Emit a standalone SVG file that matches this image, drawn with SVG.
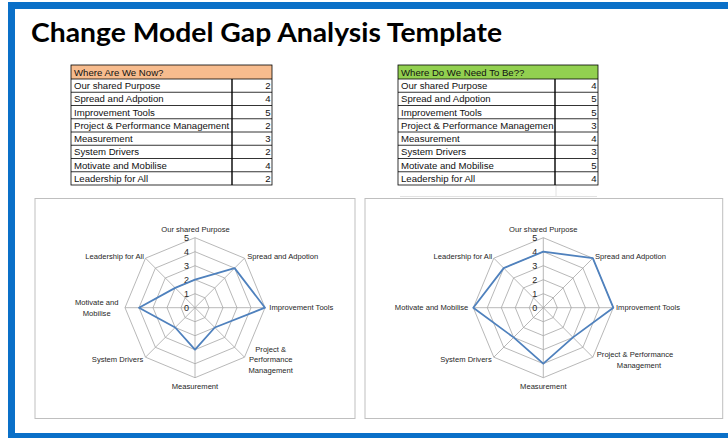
<svg xmlns="http://www.w3.org/2000/svg" width="728" height="438" viewBox="0 0 728 438">
<style>
.frame{fill:#0A70C8}
.title{font-family:Lato,"Open Sans",sans-serif;font-weight:700;font-size:27px;fill:#000}
.tt{font-family:"Liberation Sans",Arial,sans-serif;font-size:9.6px;fill:#111}
.num{text-anchor:end}
.grid{fill:none;stroke:#a6a6a6;stroke-width:0.8}
.data{fill:none;stroke:#4F81BD;stroke-width:1.8;stroke-linejoin:round}
.lbl{font-family:"Liberation Sans",Arial,sans-serif;font-size:7.6px;fill:#262626}
.ax{font-family:"Liberation Sans",Arial,sans-serif;font-size:9px;fill:#262626;text-anchor:end}
.box{fill:#fff;stroke:#bfbfbf;stroke-width:1}
.cell{fill:none;stroke:#000;stroke-width:0.8}
.mid{text-anchor:middle}
.end{text-anchor:end}
</style>
<defs>
<g id="web">
<polygon class="grid" points="0,-14 9.9,-9.9 14,0 9.9,9.9 0,14 -9.9,9.9 -14,0 -9.9,-9.9"/>
<polygon class="grid" points="0,-28 19.8,-19.8 28,0 19.8,19.8 0,28 -19.8,19.8 -28,0 -19.8,-19.8"/>
<polygon class="grid" points="0,-42 29.7,-29.7 42,0 29.7,29.7 0,42 -29.7,29.7 -42,0 -29.7,-29.7"/>
<polygon class="grid" points="0,-56 39.6,-39.6 56,0 39.6,39.6 0,56 -39.6,39.6 -56,0 -39.6,-39.6"/>
<polygon class="grid" points="0,-70 49.5,-49.5 70,0 49.5,49.5 0,70 -49.5,49.5 -70,0 -49.5,-49.5"/>
<path class="grid" d="M0,0V-70M0,0L49.5,-49.5M0,0H70M0,0L49.5,49.5M0,0V70M0,0L-49.5,49.5M0,0H-70M0,0L-49.5,-49.5"/>
<text class="ax" x="-6" y="3">0</text>
<text class="ax" x="-6" y="-11">1</text>
<text class="ax" x="-6" y="-25">2</text>
<text class="ax" x="-6" y="-39">3</text>
<text class="ax" x="-6" y="-53">4</text>
<text class="ax" x="-6" y="-67">5</text>
</g>
</defs>
<rect width="728" height="438" fill="#fff"/>
<g id="frame">
<rect class="frame" x="8" y="2" width="720" height="7"/>
<rect class="frame" x="8" y="2" width="7" height="436"/>
<rect class="frame" x="8" y="433" width="720" height="5"/>
</g>
<text id="title" class="title" x="31" y="42" textLength="471" lengthAdjust="spacingAndGlyphs">Change Model Gap Analysis Template</text>

<g id="table-now">
<rect x="71" y="65" width="201" height="14" fill="#F7BC8E"/>
<rect class="cell" x="71" y="65" width="201" height="120"/>
<path class="cell" d="M71,79H272M71,92.25H272M71,105.5H272M71,118.75H272M71,132H272M71,145.25H272M71,158.5H272M71,171.75H272"/>
<path d="M232,79V185" stroke="#000" stroke-width="1.4"/>
<text class="tt" x="74" y="75.5">Where Are We Now?</text>
<text class="tt" x="74" y="89.2">Our shared Purpose</text>
<text class="tt" x="74" y="102.4">Spread and Adpotion</text>
<text class="tt" x="74" y="115.7">Improvement Tools</text>
<text class="tt" x="74" y="128.9">Project &amp; Performance Management</text>
<text class="tt" x="74" y="142.2">Measurement</text>
<text class="tt" x="74" y="155.4">System Drivers</text>
<text class="tt" x="74" y="168.7">Motivate and Mobilise</text>
<text class="tt" x="74" y="181.9">Leadership for All</text>
<g class="tt num">
<text x="270.5" y="89.2">2</text>
<text x="270.5" y="102.4">4</text>
<text x="270.5" y="115.7">5</text>
<text x="270.5" y="128.9">2</text>
<text x="270.5" y="142.2">3</text>
<text x="270.5" y="155.4">2</text>
<text x="270.5" y="168.7">4</text>
<text x="270.5" y="181.9">2</text>
</g>
</g>

<g id="table-need">
<path d="M400,196.5H597M556,185V196.5" stroke="#e2e2e2" stroke-width="1" fill="none"/>
<rect x="398" y="65" width="200" height="14" fill="#92D050"/>
<rect class="cell" x="398" y="65" width="200" height="120"/>
<path class="cell" d="M398,79H598M398,92.25H598M398,105.5H598M398,118.75H598M398,132H598M398,145.25H598M398,158.5H598M398,171.75H598"/>
<path d="M555,79V185" stroke="#000" stroke-width="1.4"/>
<text class="tt" x="401" y="75.5">Where Do We Need To Be??</text>
<text class="tt" x="401" y="89.2">Our shared Purpose</text>
<text class="tt" x="401" y="102.4">Spread and Adpotion</text>
<text class="tt" x="401" y="115.7">Improvement Tools</text>
<text class="tt" x="401" y="128.9">Project &amp; Performance Managemen</text>
<text class="tt" x="401" y="142.2">Measurement</text>
<text class="tt" x="401" y="155.4">System Drivers</text>
<text class="tt" x="401" y="168.7">Motivate and Mobilise</text>
<text class="tt" x="401" y="181.9">Leadership for All</text>
<g class="tt num">
<text x="596.5" y="89.2">4</text>
<text x="596.5" y="102.4">5</text>
<text x="596.5" y="115.7">5</text>
<text x="596.5" y="128.9">3</text>
<text x="596.5" y="142.2">4</text>
<text x="596.5" y="155.4">3</text>
<text x="596.5" y="168.7">5</text>
<text x="596.5" y="181.9">4</text>
</g>
</g>

<g id="chart-now">
<rect class="box" x="35" y="198.5" width="320" height="220"/>
<use href="#web" x="195" y="307.7"/>
<polygon class="data" transform="translate(195,307.7)" points="0,-28 39.6,-39.6 70,0 19.8,19.8 0,42 -19.8,19.8 -56,0 -19.8,-19.8"/>
<text class="lbl mid" x="195.5" y="232">Our shared Purpose</text>
<text class="lbl" x="247.3" y="258.7">Spread and Adpotion</text>
<text class="lbl" x="269.3" y="310.4">Improvement Tools</text>
<text class="lbl mid" x="270.7" y="352">Project &amp;</text>
<text class="lbl mid" x="270.7" y="362.4">Performance</text>
<text class="lbl mid" x="270.7" y="372.8">Management</text>
<text class="lbl mid" x="195" y="388.7">Measurement</text>
<text class="lbl end" x="143.3" y="362">System Drivers</text>
<text class="lbl mid" x="96.7" y="305.4">Motivate and</text>
<text class="lbl mid" x="96.7" y="316">Mobilise</text>
<text class="lbl end" x="144" y="258.7">Leadership for All</text>
</g>

<g id="chart-need">
<rect class="box" x="365" y="198.5" width="357.7" height="220"/>
<use href="#web" x="543.3" y="307.7"/>
<polygon class="data" transform="translate(543.3,307.7)" points="0,-56 49.5,-49.5 70,0 29.7,29.7 0,56 -29.7,29.7 -70,0 -39.6,-39.6"/>
<text class="lbl mid" x="543.3" y="232">Our shared Purpose</text>
<text class="lbl" x="595" y="258.7">Spread and Adpotion</text>
<text class="lbl" x="616" y="310.4">Improvement Tools</text>
<text class="lbl mid" x="635" y="357">Project &amp; Performance</text>
<text class="lbl mid" x="639" y="367.7">Management</text>
<text class="lbl mid" x="543.3" y="388.7">Measurement</text>
<text class="lbl end" x="491.7" y="362">System Drivers</text>
<text class="lbl end" x="468.3" y="310.4">Motivate and Mobilise</text>
<text class="lbl end" x="492.3" y="258.7">Leadership for All</text>
</g>
</svg>
